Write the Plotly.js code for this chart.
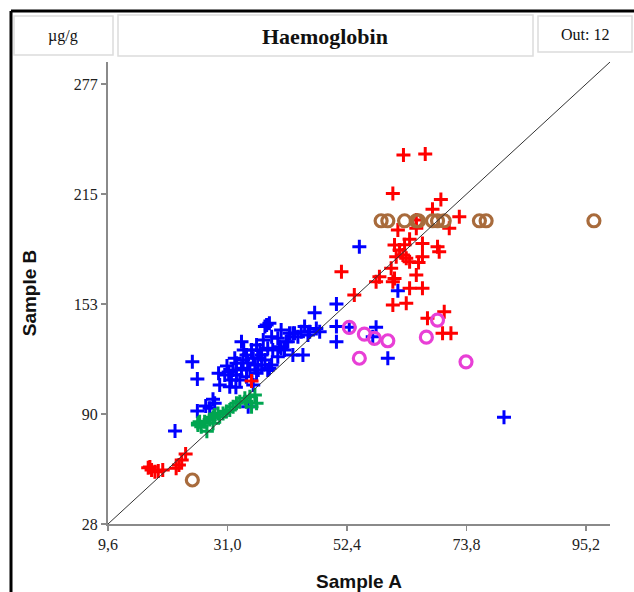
<!DOCTYPE html>
<html>
<head>
<meta charset="utf-8">
<script src="https://cdn.plot.ly/plotly-3.0.1.min.js"></script>
<style>html,body{margin:0;padding:0;background:#fff;}#chart{width:634px;height:592px;}</style>
</head>
<body>
<div id="chart"></div>
<script>
// ---- data (Sample A, Sample B) ----
const blueA = [21.6,24.7,25.6,25.6,27.1,28.4,28.7,27.8,29.4,29.6,30.5,31.4,31.7,32.0,32.3,32.6,32.6,33.2,32.5,33.5,34.4,35.3,35.6,35.9,35.0,36.2,36.8,37.1,37.4,37.7,38.5,38.9,39.1,38.5,40.6,40.6,41.5,42.7,42.7,35.6,34.7,33.5,33.8,36.2,34.4,46.6,50.5,50.5,50.5,38.0,42.1,43.0,44.2,44.8,45.7,46.9,47.5,45.4,43.6,41.8,40.0,38.2,40.3,41.2,44.5,40.0,38.9,37.7,36.5,38.2,54.6,52.8,57.6,57.0,59.7,61.5,80.5,30.9,31.2,33.9,34.6,36.4,37.1];
const blueB = [80.6,119.8,110.1,91.9,94.8,98.6,96.3,93.5,113.3,106.7,112.3,105.7,109.5,115.1,121.8,118.9,112.3,109.5,105.4,131.2,123.6,126.5,121.8,118.0,115.1,129.3,126.5,123.6,132.1,139.7,141.6,134.0,126.5,116.1,137.8,127.4,131.2,135.9,123.6,106.7,94.4,116.1,120.8,113.3,111.4,147.6,152.5,139.7,131.2,140.6,135.9,135.9,136.8,139.7,136.8,138.7,136.8,135.0,134.0,131.2,133.1,127.4,128.3,126.5,123.6,122.7,118.0,120.8,115.1,115.1,184.9,139.3,139.3,134.0,121.8,160.0,88.4,117.4,114.0,126.5,119.1,121.9,118.0];

const greenA = [25.7,26.0,26.9,27.8,28.4,28.7,29.3,29.6,30.2,30.8,31.4,32.0,32.6,33.2,34.1,35.0,35.9,36.2,34.4,35.3,28.4,25.7,27.3,26.3];
const greenB = [85.0,85.9,85.9,87.2,88.4,89.7,90.6,88.7,90.6,91.6,92.5,94.4,96.3,97.2,99.1,100.0,101.0,96.3,97.2,94.4,85.0,84.0,80.5,83.0];

const redA = [16.8,17.1,17.4,18.0,18.6,19.4,21.8,22.3,22.8,23.5,35.3,
  62.5,66.4,60.6,69.2,67.7,72.5,64.8,61.5,64.8,70.7,63.6,60.9,65.9,68.9,61.8,62.4,63.0,63.6,61.2,65.9,51.4,60.3,58.2,57.6,60.9,60.6,64.8,63.6,65.9,53.7,60.6,63.0,66.8,69.8,69.5,71.0,68.6,65.2,62.7];
const redB = [59.9,60.3,58.6,57.6,58.0,58.6,59.5,61.4,64.2,67.6,108.9,
  236.8,237.4,215.1,211.7,206.1,201.9,200.0,194.4,195.3,195.3,189.1,185.9,186.8,182.1,183.1,180.2,178.4,176.4,179.3,179.3,170.8,172.7,167.9,165.1,167.0,165.1,168.9,161.4,161.4,157.6,151.9,152.9,144.4,148.1,135.9,135.9,184.9,176.0,186.0];

const brownA = [24.7,58.5,59.7,62.7,64.8,65.2,67.7,68.6,69.8,76.1,77.3,96.6];
const brownB = [52.9,199.6,199.6,199.6,199.6,199.6,199.6,199.6,199.6,199.6,199.6,199.6];

const pinkA = [52.8,55.5,57.3,59.7,54.6,66.6,68.6,73.7];
const pinkB = [139.3,135.5,133.1,131.7,121.8,133.7,143.4,119.8];

const xTickVals = [9.6,31.0,52.4,73.8,95.2];
const xTickText = ['9,6','31,0','52,4','73,8','95,2'];
const yTickVals = [28,90.25,152.5,214.75,277];
const yTickText = ['28','90','153','215','277'];
const unitText = 'µg/g';
const titleText = 'Haemoglobin';
const outText = 'Out: 12';

// ---- layout geometry ----
const W = 634, H = 592;
const L = 108, R = 24, T = 62, B = 68;
const pw = W - L - R, ph = H - T - B;
const xr = [9.6, 9.6 + 4.2 * 21.4];
const yr = [28, 28 + 4.2 * 62.25];
const PX = p => (p - L) / pw;
const PY = p => (H - B - p) / ph;

const serif = '"Liberation Serif", "Times New Roman", serif';
const sans = '"Liberation Sans", Arial, sans-serif';

function crossTrace(xs, ys, col) {
  return {x: xs, y: ys, type: 'scatter', mode: 'markers', hoverinfo: 'skip',
    marker: {symbol: 'cross-thin-open', size: 10, color: col, line: {color: col, width: 3}}};
}
function ringTrace(xs, ys, col) {
  return {x: xs, y: ys, type: 'scatter', mode: 'markers', hoverinfo: 'skip',
    marker: {symbol: 'circle-open', size: 12, color: col, line: {color: col, width: 3.2}}};
}

const traces = [
  crossTrace(blueA, blueB, '#0000ff'),
  crossTrace(greenA, greenB, '#00a550'),
  crossTrace(redA, redB, '#ff0000'),
  ringTrace(brownA, brownB, '#a86b3c'),
  ringTrace(pinkA, pinkB, '#e83fd6')
];

function box(x0, y0, x1, y1) {
  return {type: 'rect', xref: 'paper', yref: 'paper', x0: PX(x0), x1: PX(x1), y0: PY(y1), y1: PY(y0),
    line: {color: '#dcdcdc', width: 1.5}, fillcolor: '#ffffff', layer: 'above'};
}

const layout = {
  width: W, height: H,
  margin: {l: L, r: R, t: T, b: B},
  paper_bgcolor: '#ffffff', plot_bgcolor: '#ffffff',
  showlegend: false,
  xaxis: {range: xr, tickvals: xTickVals, ticktext: xTickText, showgrid: false, zeroline: false,
    showline: true, linecolor: '#8a8a8a', linewidth: 2, ticks: 'outside', ticklen: 5, tickcolor: '#8a8a8a', tickwidth: 1.5,
    tickfont: {family: serif, size: 16, color: '#222'},
    title: {text: 'Sample A', font: {family: sans, size: 19, color: '#111', weight: 'bold'}, standoff: 22}},
  yaxis: {range: yr, tickvals: yTickVals, ticktext: yTickText, showgrid: false, zeroline: false,
    showline: true, linecolor: '#8a8a8a', linewidth: 2, ticks: 'outside', ticklen: 5, tickcolor: '#8a8a8a', tickwidth: 1.5,
    tickfont: {family: serif, size: 16, color: '#222'},
    title: {text: 'Sample B', font: {family: sans, size: 19, color: '#111', weight: 'bold'}, standoff: 32}},
  shapes: [
    {type: 'line', xref: 'x', yref: 'y', x0: xr[0], y0: yr[0], x1: xr[1], y1: yr[1], line: {color: '#333', width: 1}},
    {type: 'line', xref: 'paper', yref: 'paper', x0: PX(11), x1: PX(11), y0: PY(11), y1: PY(600), line: {color: '#000', width: 3}},
    {type: 'line', xref: 'paper', yref: 'paper', x0: PX(11), x1: PX(640), y0: PY(11), y1: PY(11), line: {color: '#000', width: 3}},
    box(14, 16, 113, 55),
    box(118, 15, 533, 56),
    box(538, 16, 632, 52)
  ],
  annotations: [
    {xref: 'paper', yref: 'paper', x: PX(63), y: PY(36), text: unitText, showarrow: false,
      xanchor: 'center', yanchor: 'middle', font: {family: serif, size: 16, color: '#111'}},
    {xref: 'paper', yref: 'paper', x: PX(325), y: PY(36), text: '<b>' + titleText + '</b>', showarrow: false,
      xanchor: 'center', yanchor: 'middle', font: {family: serif, size: 22, color: '#111'}},
    {xref: 'paper', yref: 'paper', x: PX(585), y: PY(35), text: outText, showarrow: false,
      xanchor: 'center', yanchor: 'middle', font: {family: serif, size: 16, color: '#111'}}
  ]
};

Plotly.newPlot('chart', traces, layout, {staticPlot: true, displayModeBar: false});
</script>
</body>
</html>
